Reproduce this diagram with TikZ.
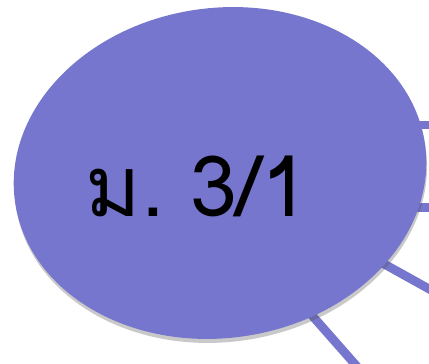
\documentclass[tikz,border=0pt]{standalone}
\usepackage{fontspec}
\newfontfamily\thaifont[Script=Thai]{Loma}
\usetikzlibrary{shapes.geometric, shadows, backgrounds, positioning}

\definecolor{hubfill}{HTML}{7676CE}
\definecolor{hubrim}{HTML}{A4A4EE}
\pgfdeclareradialshading{hubglow}{\pgfpoint{0bp}{-10bp}}{color(0bp)=(hubfill); color(42bp)=(hubfill); color(56bp)=(hubrim); color(70bp)=(hubrim)}

\begin{document}
\begin{tikzpicture}[
    hub/.style={ellipse, minimum width=10.35cm, minimum height=8.25cm, rotate=8, draw=none, shading=hubglow, drop shadow={shadow xshift=0.02cm, shadow yshift=-0.1cm, opacity=0.3, fill=black!70}},
    spoke/.style={draw=hubfill, line width=0.22cm},
    title/.style={font=\thaifont\fontsize{60}{72}\selectfont, text=black, anchor=base}
]
    \useasboundingbox (0,0) rectangle (10.725,9.1);

    % Hub
    \node[hub] (hub) at (5.5,4.775) {};
    \node[title] (label) at (4.925,3.675) {ม.\hspace{0.3em}3/1};

    % Spokes (leaving the picture, drawn behind the hub)
    \coordinate (out1) at (11,5.975);
    \coordinate (out2) at (11,3.9125);
    \coordinate (out3) at (11,1.725);
    \coordinate (out4) at (9.125,-0.29);
    \begin{scope}[on background layer]
        \draw[spoke] (hub.center |- out1) -- (out1);
        \draw[spoke] (hub.center |- out2) -- (out2);
        \draw[spoke] (hub.center) -- (out3);
        \draw[spoke] ([yshift=-0.95cm]hub.center) -- (out4);
    \end{scope}

\end{tikzpicture}
\end{document}
